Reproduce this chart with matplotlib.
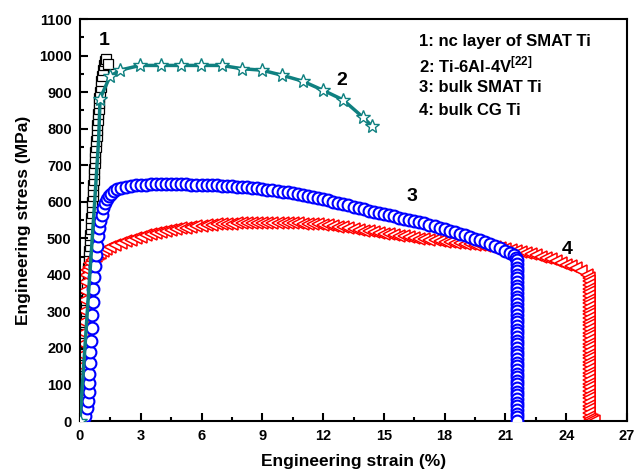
import matplotlib
matplotlib.use("Agg")
import matplotlib.pyplot as plt
from matplotlib.ticker import MultipleLocator

plt.rcParams['font.family'] = ['Liberation Sans', 'DejaVu Sans']
plt.rcParams['font.weight'] = 'bold'
plt.rcParams['mathtext.fontset'] = 'custom'
plt.rcParams['mathtext.rm'] = 'Liberation Sans:bold'
plt.rcParams['mathtext.bf'] = 'Liberation Sans:bold'

# 1: nc layer of SMAT Ti (black squares)
nc_strain = [0.0, 0.015, 0.03, 0.045, 0.06, 0.075, 0.09, 0.1, 0.12, 0.13, 0.15, 0.16,
             0.18, 0.19, 0.2, 0.22, 0.23, 0.25, 0.26, 0.28, 0.29, 0.31, 0.32, 0.34,
             0.35, 0.37, 0.38, 0.4, 0.41, 0.42, 0.45, 0.465, 0.48, 0.5, 0.51, 0.53,
             0.54, 0.56, 0.57, 0.59, 0.6, 0.62, 0.64, 0.65, 0.67, 0.69, 0.71, 0.72,
             0.74, 0.76, 0.78, 0.8, 0.82, 0.84, 0.86, 0.88, 0.9, 0.92, 0.94, 0.96,
             0.99, 1.02, 1.05, 1.09, 1.13, 1.18, 1.24, 1.3, 1.4]
nc_stress = [0, 15, 30, 45, 60, 75, 90, 105, 120, 135, 150, 165,
             180, 195, 210, 225, 240, 255, 270, 285, 300, 315, 330, 345,
             360, 375, 390, 405, 420, 435, 450, 465, 480, 495, 510, 525,
             540, 555, 570, 585, 600, 615, 630, 645, 660, 675, 690, 705,
             720, 735, 750, 765, 780, 795, 810, 825, 840, 855, 870, 885,
             900, 915, 930, 945, 960, 975, 985, 990, 978]

# 2: Ti-6Al-4V (teal stars + line)
ti64_strain = [0.0, 0.35, 0.71, 0.92, 0.99, 1.48, 1.97, 2.96, 3.98, 4.97, 5.99, 6.99,
               8.0, 8.98, 9.99, 10.99, 12.0, 12.98, 13.95, 14.43]
ti64_stress = [0, 290, 587, 770, 882, 943, 960, 973, 973, 973, 973, 973,
               964, 960, 946, 930, 905, 879, 832, 806]
ti64_star_idx = [0] + list(range(4, 20))

# 3: bulk SMAT Ti (blue circles)
smat_strain = [0.15, 0.25, 0.33, 0.4, 0.43, 0.42, 0.45, 0.48, 0.51, 0.54, 0.57, 0.6,
               0.63, 0.66, 0.7, 0.74, 0.78, 0.83, 0.88, 0.94, 1.0, 1.07, 1.15, 1.25,
               1.35, 1.45, 1.55, 1.7, 1.85, 2.0, 2.25, 2.5, 2.75, 3.0, 3.25, 3.5, 3.75,
               4.0, 4.25, 4.5, 4.75, 5.0, 5.25, 5.5, 5.75, 6.0, 6.25, 6.5, 6.75, 7.0,
               7.25, 7.5, 7.75, 8.0, 8.25, 8.5, 8.75, 9.0, 9.25, 9.5, 9.75, 10.0, 10.25,
               10.5, 10.75, 11.0, 11.25, 11.5, 11.75, 12.0, 12.25, 12.5, 12.75, 13.0,
               13.25, 13.5, 13.75, 14.0, 14.25, 14.5, 14.75, 15.0, 15.25, 15.5, 15.75,
               16.0, 16.25, 16.5, 16.75, 17.0, 17.25, 17.5, 17.75, 18.0, 18.25, 18.5,
               18.75, 19.0, 19.25, 19.5, 19.75, 20.0, 20.25, 20.5, 20.75, 21.0, 21.2,
               21.4, 21.5]
smat_stress = [0, 15, 35, 55, 80, 105, 130, 160, 190, 220, 255, 290,
               325, 360, 395, 425, 455, 480, 505, 528, 548, 565, 582, 597,
               608, 616, 622, 629, 634, 638, 641, 643, 645, 646, 647, 648, 649,
               649, 649, 649, 648, 648, 648, 647, 647, 646, 646, 645, 645, 644,
               643, 642, 641, 640, 639, 638, 637, 635, 633, 632, 630, 628, 626,
               624, 622, 619, 616, 613, 610, 607, 604, 600, 597, 593,
               590, 587, 583, 580, 576, 573, 570, 566, 563, 560, 556,
               553, 550, 547, 544, 541, 537, 533, 529, 525, 521, 517,
               512, 508, 504, 499, 495, 490, 485, 480, 473, 466, 459,
               453, 447]
smat_drop_stress = [440, 430, 420, 410, 400, 390, 380, 370, 360, 350, 340, 330, 320,
                    310, 300, 290, 280, 270, 260, 250, 240, 230, 220, 210, 200, 190,
                    180, 170, 160, 150, 140, 130, 120, 110, 100, 90, 80, 70, 60, 50,
                    40, 30, 20, 10, 0]
smat_drop_strain = [21.55] * len(smat_drop_stress)

# 4: bulk CG Ti (red triangles)
cg_strain = [0.05, 0.07, 0.08, 0.09, 0.1, 0.11, 0.12, 0.13, 0.14, 0.16, 0.18, 0.2, 0.22,
             0.25, 0.3, 0.35, 0.42, 0.5, 0.6, 0.7, 0.8, 0.9, 1.0, 1.15, 1.3, 1.5, 1.75,
             2.0, 2.25, 2.5, 2.75, 3.0, 3.25, 3.5, 3.75, 4.0, 4.25, 4.5, 4.75, 5.0, 5.25,
             5.5, 5.75, 6.0, 6.25, 6.5, 6.75, 7.0, 7.25, 7.5, 7.75, 8.0, 8.25, 8.5, 8.75,
             9.0, 9.25, 9.5, 9.75, 10.0, 10.25, 10.5, 10.75, 11.0, 11.25, 11.5, 11.75,
             12.0, 12.25, 12.5, 12.75, 13.0, 13.25, 13.5, 13.75, 14.0, 14.25, 14.5,
             14.75, 15.0, 15.25, 15.5, 15.75, 16.0, 16.25, 16.5, 16.75, 17.0, 17.25,
             17.5, 17.75, 18.0, 18.25, 18.5, 18.75, 19.0, 19.25, 19.5, 19.75, 20.0,
             20.25, 20.5, 20.75, 21.0, 21.25, 21.5, 21.75, 22.0, 22.25, 22.5, 22.75,
             23.0, 23.25, 23.5, 23.75, 24.0, 24.25, 24.5, 24.75, 25.0, 25.1]
cg_stress = [0, 30, 60, 90, 120, 150, 180, 210, 240, 270, 300, 330, 355,
             380, 400, 412, 422, 432, 440, 447, 452, 457, 461, 466, 470, 475, 481,
             487, 492, 496, 500, 504, 508, 511, 514, 517, 520, 522, 525, 527, 529,
             531, 533, 534, 536, 537, 538, 539, 540, 540, 541, 541, 542, 542, 542,
             542, 542, 542, 542, 542, 541, 541, 541, 540, 540, 539, 538,
             537, 536, 534, 532, 530, 528, 526, 523, 521, 519, 517,
             515, 513, 511, 509, 507, 505, 503, 501, 499, 497, 496,
             494, 493, 491, 490, 488, 487, 485, 484, 482, 481, 479,
             477, 475, 473, 470, 468, 465, 462, 459, 456, 453, 449,
             446, 442, 438, 433, 428, 423, 418, 410, 400, 392]
cg_drop_stress = [382, 372, 362, 352, 342, 332, 322, 312, 302, 292, 282, 272, 262,
                  252, 242, 232, 222, 212, 202, 192, 182, 172, 162, 152, 142, 132,
                  122, 112, 102, 92, 82, 72, 62, 52, 42, 32, 22, 12, 5, 2, 0]
cg_drop_strain = [25.1] * 38 + [25.17, 25.26, 25.35]

legend_lines = ['1: nc layer of SMAT Ti', '2: Ti-6Al-4V$^{[22]}$',
                '3: bulk SMAT Ti', '4: bulk CG Ti']

fig = plt.figure(figsize=(6.41, 4.72), dpi=100)
ax = fig.add_axes([0.1248, 0.108, 0.8534, 0.8517])

ax.plot(nc_strain, nc_stress, ls='none', marker='s', ms=7, mfc='white',
        mec='black', mew=0.9, zorder=1)
ax.plot(cg_strain + cg_drop_strain, cg_stress + cg_drop_stress, ls='none',
        marker='<', ms=8.5, mfc='white', mec='#ff0000', mew=1.1, zorder=2)
ax.plot(smat_strain + smat_drop_strain, smat_stress + smat_drop_stress, ls='none',
        marker='o', ms=8.5, mfc='white', mec='#0000ff', mew=1.5, zorder=3)
ax.plot(ti64_strain, ti64_stress, color='#0f8080', lw=2.5, marker='*', ms=10,
        mfc='white', mec='#0f8080', mew=1.0, markevery=ti64_star_idx, zorder=5)

ax.text(1.2, 1040, '1', fontsize=14, fontweight='bold', ha='center', va='center')
ax.text(12.9, 931, '2', fontsize=14, fontweight='bold', ha='center', va='center')
ax.text(16.4, 614, '3', fontsize=14, fontweight='bold', ha='center', va='center')
ax.text(24.05, 468, '4', fontsize=14, fontweight='bold', ha='center', va='center')

for i, line in enumerate(legend_lines):
    ax.text(0.62, 0.943 - i * 0.057, line, transform=ax.transAxes, fontsize=12,
            fontweight='bold', ha='left', va='center')

ax.set_xlim(0, 27)
ax.set_ylim(0, 1100)
ax.xaxis.set_major_locator(MultipleLocator(3))
ax.xaxis.set_minor_locator(MultipleLocator(1.5))
ax.yaxis.set_major_locator(MultipleLocator(100))
ax.yaxis.set_minor_locator(MultipleLocator(50))
ax.tick_params(which='both', direction='in', top=False, right=False, width=1.5)
ax.tick_params(which='major', length=6, labelsize=10.5, pad=6)
ax.tick_params(which='minor', length=3)
for lab in ax.get_xticklabels() + ax.get_yticklabels():
    lab.set_fontweight('bold')
for sp in ax.spines.values():
    sp.set_linewidth(1.5)

ax.set_xlabel('Engineering strain (%)', fontsize=12.5, fontweight='bold', labelpad=8)
ax.set_ylabel('Engineering stress (MPa)', fontsize=12.5, fontweight='bold', labelpad=6)

fig.savefig('out.png', dpi=100)
